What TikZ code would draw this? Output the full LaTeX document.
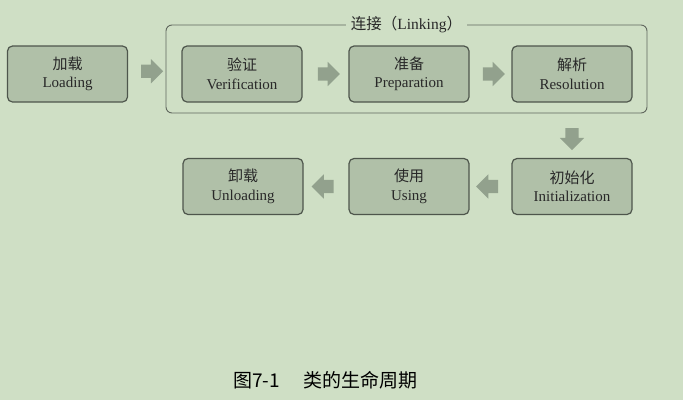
\documentclass[tikz,border=0pt]{standalone}
\usepackage{fontspec}
\setmainfont{Liberation Serif}
\newfontfamily\cjk{Noto Sans CJK SC}
\usetikzlibrary{shapes.arrows,calc}
\definecolor{bgcol}{RGB}{207,223,197}
\definecolor{boxfill}{RGB}{176,192,168}
\definecolor{boxline}{RGB}{78,86,76}
\definecolor{arrowfill}{RGB}{146,161,141}
\definecolor{textcol}{RGB}{40,40,40}
\tikzset{
	stage/.style={draw=boxline,fill=boxfill,line width=1.2pt,rounded corners=5pt,minimum width=120pt,minimum height=56pt,align=center,text=textcol,font=\fontsize{15}{18.5}\selectfont},
	flow/.style={single arrow,fill=arrowfill,draw=none,inner sep=6.5pt,minimum height=22pt,single arrow head extend=5.5pt},
	linkframe/.style={draw=boxline!90,line width=0.9pt,rounded corners=6pt,minimum width=481pt,minimum height=88pt}
}
\begin{document}
\begin{tikzpicture}[x=1pt,y=-1pt]
	\fill[bgcol] (0,0) rectangle (683,400);
	\useasboundingbox (0,0) rectangle (683,400);
	% linking frame
	\node[linkframe] (link) at (406.5,69) {};
	\node[fill=bgcol,inner xsep=5pt,inner ysep=1pt,text=textcol,font=\fontsize{15.5}{18}\selectfont] (linklabel) at (link.north) {{\cjk 连接（}Linking{\cjk ）}};
	% stages
	\node[stage] (load) at (67.5,74) {{\cjk 加载}\\Loading};
	\node[stage] (verif) at (242,74) {{\cjk 验证}\\Verification};
	\node[stage] (prep) at (409,74) {{\cjk 准备}\\Preparation};
	\node[stage] (resol) at (572,74) {{\cjk 解析}\\Resolution};
	\node[stage] (init) at (572,186.5) {{\cjk 初始化}\\Initialization};
	\node[stage] (using) at (409,186.5) {{\cjk 使用}\\Using};
	\node[stage] (unload) at (243,186.5) {{\cjk 卸载}\\Unloading};
	% arrows
	\node[flow] (a1) at ($(load.east)!.55!(link.west)$) {};
	\node[flow] (a2) at ($(verif.east)!.5!(prep.west)$) {};
	\node[flow] (a3) at ($(prep.east)!.5!(resol.west)$) {};
	\node[flow,rotate=-90] (a4) at ($(resol.south|-link.south)!.5!(init.north)$) {};
	\node[flow,rotate=180] (a5) at ($(init.west)!.5!(using.east)$) {};
	\node[flow,rotate=180] (a6) at ($(using.west)!.5!(unload.east)$) {};
	% caption
	\node[anchor=west,inner sep=0pt,font=\cjk\fontsize{19}{21}\selectfont] (caption) at (233,380) {图7-1\hspace{24pt}类的生命周期};
\end{tikzpicture}
\end{document}
